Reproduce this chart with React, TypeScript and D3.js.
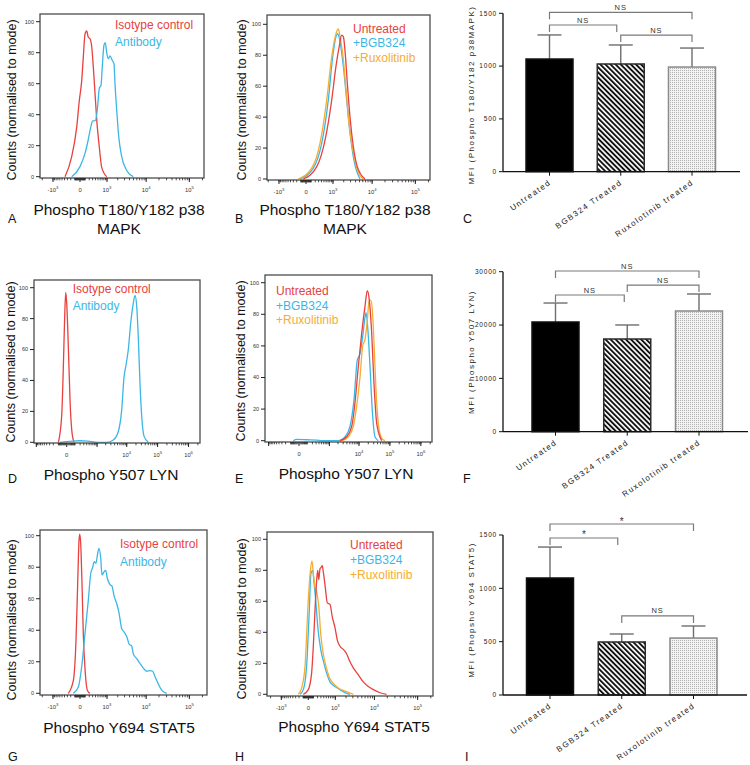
import React from 'react';
import * as d3 from 'd3';

type Pt = [number, number];

// ---------- Histogram data: [fluorescence intensity, counts (% of mode)] ----------
const p38Isotype: Pt[] = [[-382,0],[-174,13],[-60,32],[-12,49],[30,62],[60,77],[96,92],[134,94],[174,90],[220,89],[271,84],[322,71],[382,54],[448,37],[561,19],[679,6],[978,0]];
const p38Antibody: Pt[] = [[-174,0],[0,6.5],[96,15],[174,24],[242,32],[303,36],[382,36],[472,43],[561,57],[642,59],[710,71],[806,85],[887,86.5],[978,80],[1092,76],[1224,78],[1423,75],[1585,73],[1689,60],[1877,43],[2121,26],[2538,13],[3397,4],[4938,0]];
const p38Untreated: Pt[] = [[-48,0],[242,8],[546,25],[912,51],[1224,73],[1520,86],[1760,93],[1952,92],[2160,83],[2480,62],[2904,40],[3517,21],[4415,8],[6770,0]];
const p38Bgb: Pt[] = [[-118,0],[149,7],[408,23],[710,51],[978,79],[1224,92],[1337,94],[1489,92],[1655,86],[1952,73],[2385,51],[2904,30],[3660,12],[5136,0]];
const p38Rux: Pt[] = [[-159,0],[111,7],[346,23],[627,51],[912,79],[1224,94],[1423,97],[1585,92],[1877,81],[2292,58],[2792,34],[3517,17],[4415,6],[6170,0]];

const lynIsotype: Pt[] = [[-100,0],[-53,17],[-33,49],[-19,81],[-9,97],[0,90],[16,60],[33,27],[53,8],[84,0]];
const lynAntibody: Pt[] = [[-76,0],[33,0.6],[197,1],[544,0.6],[1272,0],[2166,0],[3615,1.5],[5290,7],[6846,21],[8143,42],[9470,50],[11260,60],[13470,77],[16370,90],[18580,95],[21100,88],[23770,68],[27000,38],[30650,17],[36400,4],[50100,0]];
const lynUntreated: Pt[] = [[2343,0],[3936,2.5],[5745,9],[7383,24],[9470,47],[12210,68],[15640,85],[18580,95],[21590,89],[25810,68],[30650,36],[37480,11],[54400,0]];
const lynBgb: Pt[] = [[-62,0],[-22,0.8],[90,0.6],[319,0.4],[515,0],[2052,0],[3452,2.5],[5054,9],[6846,26],[8780,51],[10750,55],[13180,66],[15640,78],[16870,81],[19150,72],[22750,47],[27000,19],[33040,2.5],[42240,0]];
const lynRux: Pt[] = [[2675,0],[4445,2.5],[6494,9],[8389,22],[10750,40],[13180,60],[15640,64],[18580,76],[21100,88],[23960,89],[27000,83],[30650,62],[35570,32],[42240,11],[54400,1.5],[69500,0]];

const stat5Isotype: Pt[] = [[-270,0],[-134,8],[-74,34],[-41,70],[-17,97],[-5,101],[12,95],[35,70],[60,38],[102,13],[149,2],[220,0]];
const stat5Antibody: Pt[] = [[-134,0],[-29,4],[30,17],[96,38],[174,59],[242,76],[303,80],[357,83.5],[420,82.5],[490,89],[546,92],[627,86],[694,75],[806,77],[912,78],[1021,73],[1224,69],[1395,68],[1585,62],[1877,57],[2160,51],[2538,41],[2904,39],[3397,36],[3943,31],[4516,30],[4938,25],[5969,22],[7155,19],[8590,16],[10300,14],[12340,14.4],[14280,14],[16150,10.6],[19270,6],[23120,2],[30180,0]];
const stat5Untreated: Pt[] = [[-95,0],[0,3],[60,13.5],[96,31],[134,54],[177,74],[204,80],[233,74],[271,81],[313,82],[346,83],[382,79],[460,69],[546,59],[679,58],[806,50],[978,43],[1145,35],[1368,31],[1689,29],[2083,26],[2434,22],[3082,17],[4102,12.5],[5425,8],[7155,5],[9413,3],[13520,1],[19270,0]];
const stat5Bgb: Pt[] = [[-174,0],[-95,3],[-30,18],[17,54],[48,78],[83,80],[111,72],[151,61],[204,44],[293,29],[408,20],[520,13.5],[679,8],[978,5],[1368,3],[2083,0.6],[2538,0]];
const stat5Rux: Pt[] = [[-220,0],[-134,4],[-60,18],[0,61],[35,79],[68,86],[96,78],[134,69],[177,66],[233,57],[293,39],[382,26],[490,18],[642,11],[868,7],[1224,4],[1877,2],[3082,0]];

const countTicks = [0, 20, 40, 60, 80, 100];
const p38TickValues = [-1e3, 0, 1e3, 1e4, 1e5];
const lynTickValues = [0, 1e4, 1e5, 1e6];
const lynUnlabeled = [-1e3, 1e3];
const isoLegend = ['Isotype control', 'Antibody'];
const treatLegend = ['Untreated', '+BGB324', '+Ruxolitinib'];

// ---------- Bar data (MFI mean, SD) ----------
const barCategories = ['Untreated', 'BGB324 Treated', 'Ruxolotinib treated'];
const p38Mfi = [1067, 1020, 991];
const p38Sd = [228, 180, 180];
const lynMfi = [20570, 17380, 22630];
const lynSd = [3560, 2630, 3190];
const stat5Mfi = [1097, 497, 534];
const stat5Sd = [290, 75, 113];
const p38BarTicks = [0, 500, 1000, 1500];
const lynBarTicks = [0, 10000, 20000, 30000];
const stat5BarTicks = [0, 500, 1000, 1500];

const RED = '#e8413e';
const BLUE = '#3bb7e6';
const ORANGE = '#f5ad33';
const FONT = '"Liberation Sans", Arial, Helvetica, sans-serif';

const p38Axis = { c: 318, k: 19 };
const lynAxis = { c: 117, k: 13.46 };

type Series = { data: Pt[]; color: string };
type HistCfg = {
  id: string;
  frame: [number, number, number, number];
  zero: number;
  yPx: [number, number];
  axis: { c: number; k: number };
  ticks: number[];
  unlabeled?: number[];
  series: Series[];
  legend: { x: number; y: number; dy: number; items: string[]; colors: string[] };
  title: string[];
  titleX: number;
  titleY: number;
  countsX: number;
  countsY: number;
  letter: { x: number; y: number };
};

const histPanels: HistCfg[] = [
  {
    id: 'A', frame: [40, 204, 14, 178], zero: 80, yPx: [176.7, 21.7], axis: p38Axis, ticks: p38TickValues,
    series: [{ data: p38Isotype, color: RED }, { data: p38Antibody, color: BLUE }],
    legend: { x: 115, y: 28.5, dy: 17.5, items: isoLegend, colors: [RED, BLUE] },
    title: ['Phospho T180/Y182 p38', 'MAPK'], titleX: 119, titleY: 215, countsX: 16, countsY: 100, letter: { x: 8, y: 223 },
  },
  {
    id: 'B', frame: [267, 430, 15, 180], zero: 306, yPx: [179, 24.3], axis: p38Axis, ticks: p38TickValues,
    series: [{ data: p38Bgb, color: BLUE }, { data: p38Rux, color: ORANGE }, { data: p38Untreated, color: RED }],
    legend: { x: 353, y: 32.7, dy: 14.5, items: treatLegend, colors: [RED, BLUE, ORANGE] },
    title: ['Phospho T180/Y182 p38', 'MAPK'], titleX: 345, titleY: 215, countsX: 246, countsY: 100, letter: { x: 235, y: 223 },
  },
  {
    id: 'D', frame: [34, 200, 280, 443], zero: 66.7, yPx: [442.3, 287.7], axis: lynAxis, ticks: lynTickValues, unlabeled: lynUnlabeled,
    series: [{ data: lynIsotype, color: RED }, { data: lynAntibody, color: BLUE }],
    legend: { x: 72.7, y: 292.7, dy: 17.5, items: isoLegend, colors: [RED, BLUE] },
    title: ['Phospho Y507 LYN'], titleX: 111, titleY: 480, countsX: 15, countsY: 362, letter: { x: 8, y: 483 },
  },
  {
    id: 'E', frame: [265, 432, 275, 442], zero: 299, yPx: [440.7, 282.7], axis: lynAxis, ticks: lynTickValues, unlabeled: lynUnlabeled,
    series: [{ data: lynBgb, color: BLUE }, { data: lynRux, color: ORANGE }, { data: lynUntreated, color: RED }],
    legend: { x: 276, y: 295, dy: 14.5, items: treatLegend, colors: [RED, BLUE, ORANGE] },
    title: ['Phospho Y507 LYN'], titleX: 346, titleY: 479, countsX: 245, countsY: 361, letter: { x: 235, y: 483 },
  },
  {
    id: 'G', frame: [40, 207, 530, 695], zero: 80, yPx: [693.3, 535.7], axis: p38Axis, ticks: p38TickValues,
    series: [{ data: stat5Isotype, color: RED }, { data: stat5Antibody, color: BLUE }],
    legend: { x: 120, y: 548.3, dy: 17.7, items: isoLegend, colors: [RED, BLUE] },
    title: ['Phospho Y694 STAT5'], titleX: 119, titleY: 733, countsX: 16, countsY: 620, letter: { x: 8, y: 761 },
  },
  {
    id: 'H', frame: [267, 433, 532, 696], zero: 308.3, yPx: [694.3, 539.3], axis: p38Axis, ticks: p38TickValues,
    series: [{ data: stat5Bgb, color: BLUE }, { data: stat5Rux, color: ORANGE }, { data: stat5Untreated, color: RED }],
    legend: { x: 350, y: 549.3, dy: 14.8, items: treatLegend, colors: [RED, BLUE, ORANGE] },
    title: ['Phospho Y694 STAT5'], titleX: 354, titleY: 732, countsX: 246, countsY: 619, letter: { x: 235, y: 761 },
  },
];

type Bracket = { from: number; to: number; y: number; label: string; toShift?: number };
type BarCfg = {
  id: string;
  mean: number[];
  sd: number[];
  domain: [number, number];
  ticks: number[];
  y0: number;
  yTop: number;
  centers: [number, number];
  xEnd: number;
  brackets: Bracket[];
  yLabel: string;
  yLabelY: number;
  letter: { x: number; y: number };
};

const barPanels: BarCfg[] = [
  {
    id: 'C', mean: p38Mfi, sd: p38Sd, domain: [0, 1500], ticks: p38BarTicks, y0: 171.7, yTop: 13.3, centers: [549.5, 692], xEnd: 740,
    brackets: [
      { from: 0, to: 2, y: 1509, label: 'NS' },
      { from: 0, to: 1, y: 1389, label: 'NS', toShift: -4 },
      { from: 1, to: 2, y: 1294, label: 'NS' },
    ],
    yLabel: 'MFI (Phospho T180/Y182 p38MAPK)', yLabelY: 95, letter: { x: 463, y: 223 },
  },
  {
    id: 'F', mean: lynMfi, sd: lynSd, domain: [0, 30000], ticks: lynBarTicks, y0: 431.7, yTop: 271.7, centers: [555.5, 699], xEnd: 748,
    brackets: [
      { from: 0, to: 2, y: 30130, label: 'NS' },
      { from: 0, to: 1, y: 25630, label: 'NS', toShift: -3 },
      { from: 1, to: 2, y: 27500, label: 'NS' },
    ],
    yLabel: 'MFI (Phospho Y507 LYN)', yLabelY: 352, letter: { x: 463, y: 483 },
  },
  {
    id: 'I', mean: stat5Mfi, sd: stat5Sd, domain: [0, 1500], ticks: stat5BarTicks, y0: 695, yTop: 535, centers: [550, 693.5], xEnd: 747,
    brackets: [
      { from: 0, to: 2, y: 1603, label: '*' },
      { from: 0, to: 1, y: 1472, label: '*', toShift: -4 },
      { from: 1, to: 2, y: 741, label: 'NS' },
    ],
    yLabel: 'MFI (Phopsho Y694 STAT5)', yLabelY: 610, letter: { x: 465, y: 761 },
  },
];

const barFills = ['#000', 'url(#stripes)', 'url(#dots)'];
const barStrokes = ['#111', '#2a2a2a', '#8a8a8a'];

function tickLabel(v: number) {
  if (v === 0) return <tspan>0</tspan>;
  const e = Math.round(Math.log10(Math.abs(v)));
  return (
    <>
      <tspan>{v < 0 ? '-10' : '10'}</tspan>
      <tspan dy={-2.6} fontSize={4.2}>{e}</tspan>
    </>
  );
}

function Histogram({ p }: { p: HistCfg }) {
  const [x0, x1, y0, y1] = p.frame;
  const { c, k } = p.axis;
  const inv = (px: number) => Math.sign(px) * c * Math.expm1(Math.abs(px) / k);
  const x = d3.scaleSymlog().constant(c).domain([inv(x0 - p.zero), inv(x1 - p.zero)]).range([x0, x1]);
  const y = d3.scaleLinear().domain([0, 100]).range(p.yPx);
  const line = d3.line<Pt>().x(d => x(d[0])).y(d => y(d[1])).curve(d3.curveMonotoneX);
  const [dmin, dmax] = x.domain();
  const minor: number[] = [];
  for (let e = 1; e <= 6; e++)
    for (let m = 1; m <= 9; m++)
      for (const s of [-1, 1]) {
        const v = s * m * Math.pow(10, e);
        if (v > dmin && v < dmax) minor.push(v);
      }
  const majors = [...p.ticks, ...(p.unlabeled || [])];
  return (
    <g>
      {p.series.map((s, i) => (
        <path key={i} d={line(s.data) || ''} fill="none" stroke={s.color} strokeWidth={1.3} strokeLinejoin="round" />
      ))}
      <rect x={x0} y={y0} width={x1 - x0} height={y1 - y0} fill="none" stroke="#4d4d4d" strokeWidth={1.3} />
      {minor.map(v => (
        <line key={'m' + v} x1={x(v)} x2={x(v)} y1={y1} y2={y1 + 2.3} stroke="#222" strokeWidth={0.8} />
      ))}
      {majors.map(v => (
        <line key={'M' + v} x1={x(v)} x2={x(v)} y1={y1} y2={y1 + 4} stroke="#222" strokeWidth={1} />
      ))}
      {p.ticks.map(v => (
        <text key={'t' + v} x={x(v)} y={y1 + 13.5} fontSize={5.8} textAnchor="middle" fill="#333">{tickLabel(v)}</text>
      ))}
      {countTicks.map(v => (
        <g key={'y' + v}>
          <line x1={x0 - 4} x2={x0} y1={y(v)} y2={y(v)} stroke="#222" strokeWidth={1} />
          <text x={x0 - 6} y={y(v)} dy="0.35em" fontSize={5.5} textAnchor="end" fill="#333">{v}</text>
        </g>
      ))}
      {p.legend.items.map((t, i) => (
        <text key={'l' + i} x={p.legend.x} y={p.legend.y + i * p.legend.dy} fontSize={12} fill={p.legend.colors[i]}>{t}</text>
      ))}
      {p.title.map((t, i) => (
        <text key={'ti' + i} x={p.titleX} y={p.titleY + i * 19} fontSize={15.5} textAnchor="middle" fill="#111">{t}</text>
      ))}
      <text transform={`translate(${p.countsX},${p.countsY}) rotate(-90)`} fontSize={12.5} textAnchor="middle" fill="#111">
        Counts (normalised to mode)
      </text>
      <text x={p.letter.x} y={p.letter.y} fontSize={12.5} fill="#111">{p.id}</text>
    </g>
  );
}

function BarPanel({ b }: { b: BarCfg }) {
  const y = d3.scaleLinear().domain(b.domain).range([b.y0, b.yTop]);
  const x = d3.scalePoint<string>().domain(barCategories).range(b.centers);
  const axisX = 503;
  const barW = 47;
  const cx = (i: number) => x(barCategories[i]) as number;
  return (
    <g>
      {/* error bars */}
      {b.mean.map((m, i) => (
        <g key={'e' + i}>
          <line x1={cx(i)} x2={cx(i)} y1={y(m)} y2={y(m + b.sd[i])} stroke="#6e6e6e" strokeWidth={1.4} />
          <line x1={cx(i) - 12} x2={cx(i) + 12} y1={y(m + b.sd[i])} y2={y(m + b.sd[i])} stroke="#6e6e6e" strokeWidth={1.4} />
        </g>
      ))}
      {b.mean.map((m, i) => (
        <rect key={'b' + i} x={cx(i) - barW / 2} y={y(m)} width={barW} height={b.y0 - y(m)}
          fill={barFills[i]} stroke={barStrokes[i]} strokeWidth={1.5} />
      ))}
      {/* axes */}
      <line x1={axisX} x2={axisX} y1={y(b.domain[1])} y2={b.y0} stroke="#111" strokeWidth={1.3} />
      <line x1={axisX} x2={b.xEnd} y1={b.y0} y2={b.y0} stroke="#111" strokeWidth={1.3} />
      {b.ticks.map(v => (
        <g key={'t' + v}>
          <line x1={axisX - 4} x2={axisX} y1={y(v)} y2={y(v)} stroke="#111" strokeWidth={1} />
          <text x={axisX - 6} y={y(v)} dy="0.35em" fontSize={6.5} letterSpacing={0.8} textAnchor="end" fill="#222">{v}</text>
        </g>
      ))}
      {barCategories.map((c, i) => (
        <g key={'c' + i}>
          <line x1={cx(i)} x2={cx(i)} y1={b.y0} y2={b.y0 + 4} stroke="#111" strokeWidth={1} />
          <text transform={`translate(${cx(i) + 2},${b.y0 + 12}) rotate(-35)`} fontSize={8} letterSpacing={1.4}
            textAnchor="end" fill="#222">{c}</text>
        </g>
      ))}
      {/* significance brackets */}
      {b.brackets.map((br, i) => {
        const xa = cx(br.from);
        const xb = cx(br.to) + (br.toShift || 0);
        const yy = y(br.y);
        const star = br.label === '*';
        return (
          <g key={'br' + i}>
            <path d={`M${xa},${yy + 7}V${yy}H${xb}V${yy + 7}`} fill="none" stroke="#7a7a7a" strokeWidth={1.2} />
            <text x={(xa + xb) / 2} y={star ? yy + 0.5 : yy - 2.5} fontSize={star ? 10 : 7.5} letterSpacing={star ? 0 : 1}
              textAnchor="middle" fill="#333">{br.label}</text>
          </g>
        );
      })}
      <text transform={`translate(474,${b.yLabelY}) rotate(-90)`} fontSize={8} letterSpacing={1.5} textAnchor="middle" fill="#222">
        {b.yLabel}
      </text>
      <text x={b.letter.x} y={b.letter.y} fontSize={12.5} fill="#111">{b.id}</text>
    </g>
  );
}

export default function App() {
  return (
    <svg width={750} height={765} style={{ position: 'absolute', left: 0, top: 0, background: '#fff' }} fontFamily={FONT}>
      <defs>
        <pattern id="stripes" width="3.6" height="3.6" patternUnits="userSpaceOnUse" patternTransform="rotate(-45)">
          <rect width="3.6" height="3.6" fill="#fff" />
          <rect width="1.9" height="3.6" fill="#111" />
        </pattern>
        <pattern id="dots" width="2" height="2" patternUnits="userSpaceOnUse">
          <rect width="2" height="2" fill="#f3f3f3" />
          <rect width="1" height="1" fill="#b3b3b3" />
        </pattern>
      </defs>
      <rect width={750} height={765} fill="#fff" />
      {histPanels.map(p => <Histogram key={p.id} p={p} />)}
      {barPanels.map(b => <BarPanel key={b.id} b={b} />)}
    </svg>
  );
}
